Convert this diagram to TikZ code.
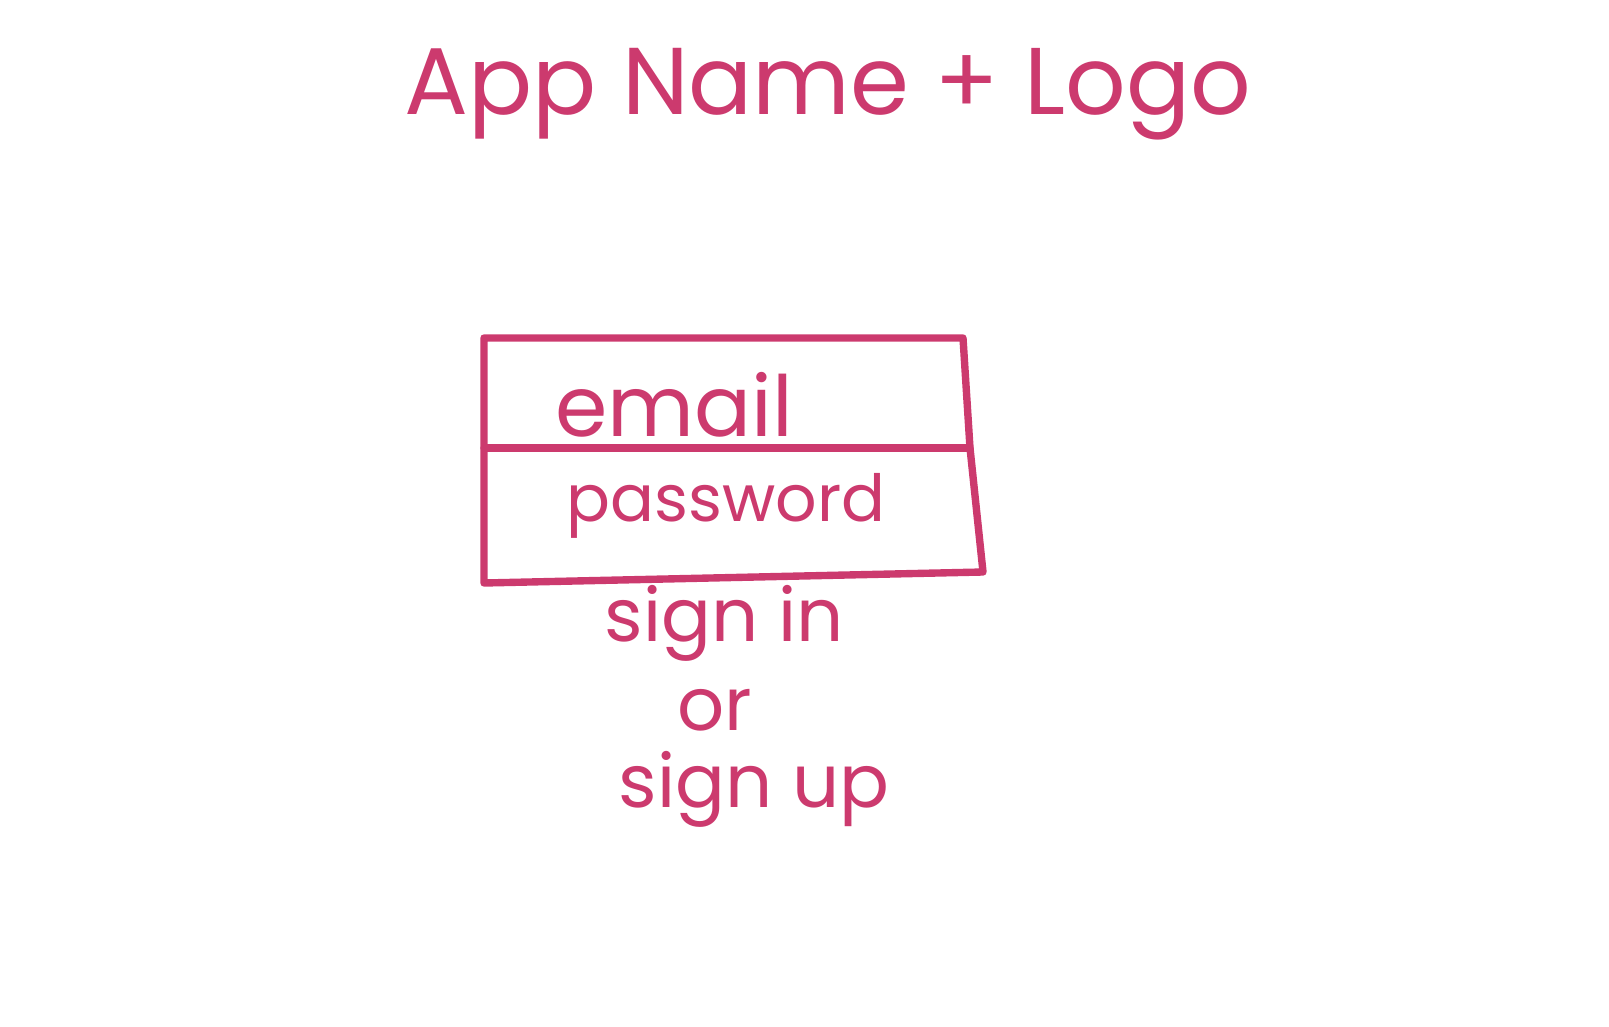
\documentclass[tikz,border=0pt]{standalone}
\usepackage{fontspec}
\setmainfont{Poppins}
\definecolor{ink}{HTML}{CC3A6E}

\begin{document}
\begin{tikzpicture}[x=0.02cm, y=-0.02cm, line join=round, line cap=round]
\tikzset{
  pen/.style={draw=ink, line width=4.2pt},
  word/.style={text=ink, anchor=base, inner sep=0pt, font=\fontsize{42}{42}\selectfont},
  title/.style={word, font=\fontsize{54}{54}\selectfont}
}
\useasboundingbox (0, 0) rectangle (1609, 1027);

\node [title] (appname) at (828, 115) {App Name + Logo};

% login form
\coordinate (tl) at (484, 338);
\coordinate (tr) at (963, 338);
\coordinate (mr) at (970, 448);
\coordinate (br) at (983, 572);
\coordinate (bl) at (484, 583);
\coordinate (ml) at (484, 448);
\draw [pen] (tl) -- (tr) -- (mr) -- (br) -- (bl) -- cycle;
\draw [pen] (ml) -- (mr);

\node [word, font=\fontsize{48}{48}\selectfont] (email) at (674, 436) {email};
\node [word, font=\fontsize{37}{37}\selectfont] (password) at (726, 521) {password};

\node [word] (signin) at (724, 641) {sign in};
\node [word] (or)     at (715, 730) {or};
\node [word] (signup) at (754, 807) {sign up};
\end{tikzpicture}
\end{document}
